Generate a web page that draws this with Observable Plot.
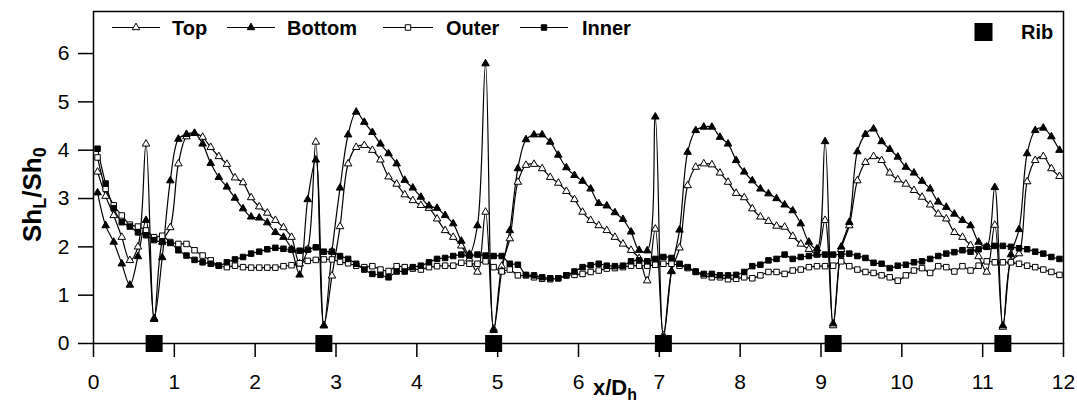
<!DOCTYPE html>
<html><head><meta charset="utf-8">
<script src="https://cdn.jsdelivr.net/npm/d3@7"></script>
<script src="https://cdn.jsdelivr.net/npm/@observablehq/plot@0.6"></script>
<style>
html,body{margin:0;padding:0;background:#fff;}
#chart{width:1077px;height:404px;overflow:hidden;}
svg{font-family:"Liberation Sans",Arial,Helvetica,sans-serif;}
</style></head><body><div id="chart"></div>
<script>
// measurement stations x/Dh
const xPos = [
 0.05,0.15,0.25,0.35,0.45,0.55,0.65,0.75,0.85,0.95,
 1.05,1.15,1.25,1.35,1.45,1.55,1.65,1.75,1.85,1.95,
 2.05,2.15,2.25,2.35,2.45,2.55,2.65,2.75,2.85,2.95,
 3.05,3.15,3.25,3.35,3.45,3.55,3.65,3.75,3.85,3.95,
 4.05,4.15,4.25,4.35,4.45,4.55,4.65,4.75,4.85,4.95,
 5.05,5.15,5.25,5.35,5.45,5.55,5.65,5.75,5.85,5.95,
 6.05,6.15,6.25,6.35,6.45,6.55,6.65,6.75,6.85,6.95,
 7.05,7.15,7.25,7.35,7.45,7.55,7.65,7.75,7.85,7.95,
 8.05,8.15,8.25,8.35,8.45,8.55,8.65,8.75,8.85,8.95,
 9.05,9.15,9.25,9.35,9.45,9.55,9.65,9.75,9.85,9.95,
 10.05,10.15,10.25,10.35,10.45,10.55,10.65,10.75,10.85,10.95,
 11.05,11.15,11.25,11.35,11.45,11.55,11.65,11.75,11.85,11.95];

const topVals = [
 3.55,3.05,2.65,2.2,1.72,2.0,4.13,0.5,2.1,2.4,
 3.72,4.28,4.35,4.27,4.06,3.87,3.71,3.43,3.33,3.02,
 2.83,2.7,2.55,2.4,2.2,1.65,1.95,4.17,0.37,1.4,
 2.42,3.72,4.06,4.1,4.0,3.8,3.45,3.3,3.08,2.96,
 2.86,2.8,2.58,2.34,2.2,2.02,1.75,1.48,2.72,0.3,
 1.6,2.17,3.34,3.69,3.71,3.62,3.44,3.32,3.15,2.98,
 2.72,2.55,2.44,2.34,2.2,2.06,1.93,1.76,1.3,2.37,
 0.17,1.49,1.98,3.27,3.65,3.72,3.7,3.53,3.34,3.11,
 3.02,2.79,2.62,2.53,2.43,2.41,2.22,2.06,1.95,1.85,
 2.55,0.37,1.95,2.44,3.37,3.75,3.87,3.79,3.53,3.39,
 3.3,3.17,3.03,2.87,2.68,2.58,2.3,2.2,2.03,1.8,
 1.48,2.45,0.34,1.7,1.86,3.35,3.79,3.87,3.62,3.46];

const bottomVals = [
 3.12,2.44,2.1,1.65,1.21,1.8,2.55,0.52,1.78,3.37,
 4.23,4.33,4.35,4.13,3.73,3.44,3.24,3.01,2.79,2.62,
 2.6,2.5,2.3,2.2,1.95,1.42,2.98,3.8,0.37,1.9,
 3.22,4.32,4.79,4.58,4.37,4.13,3.93,3.72,3.38,3.22,
 3.03,2.85,2.8,2.65,2.48,2.12,1.85,2.44,5.79,0.27,
 1.5,2.34,3.62,4.22,4.32,4.32,4.17,3.9,3.64,3.48,
 3.36,3.2,2.9,2.85,2.71,2.57,2.31,1.93,1.92,4.69,
 0.13,1.5,2.35,3.96,4.41,4.48,4.48,4.27,4.13,3.79,
 3.55,3.37,3.2,3.1,3.0,2.87,2.75,2.48,2.1,1.96,
 4.18,0.41,2.0,2.51,3.97,4.33,4.44,4.18,4.02,3.86,
 3.65,3.53,3.36,3.2,2.93,2.82,2.68,2.55,2.44,2.1,
 2.0,3.23,0.37,1.84,2.36,3.93,4.41,4.46,4.28,4.0];

const outerVals = [
 3.85,3.2,2.86,2.65,2.46,2.42,2.34,2.2,2.23,2.1,
 2.06,2.06,1.93,1.82,1.72,1.61,1.58,1.61,1.58,1.57,
 1.57,1.57,1.57,1.6,1.62,1.66,1.71,1.73,1.74,1.74,
 1.69,1.66,1.61,1.58,1.6,1.53,1.5,1.6,1.58,1.55,
 1.53,1.58,1.6,1.61,1.61,1.67,1.65,1.65,1.7,1.58,
 1.49,1.53,1.41,1.41,1.37,1.34,1.33,1.35,1.41,1.42,
 1.44,1.48,1.51,1.55,1.56,1.58,1.61,1.61,1.61,1.63,
 1.65,1.65,1.61,1.56,1.48,1.41,1.37,1.37,1.33,1.34,
 1.37,1.35,1.41,1.48,1.48,1.44,1.51,1.53,1.58,1.6,
 1.6,1.61,1.7,1.6,1.53,1.48,1.46,1.41,1.37,1.3,
 1.41,1.51,1.56,1.46,1.6,1.58,1.49,1.6,1.51,1.61,
 1.7,1.68,1.68,1.68,1.65,1.61,1.58,1.53,1.48,1.42];

const innerVals = [
 4.03,3.31,2.8,2.51,2.42,2.3,2.24,2.14,2.1,2.08,
 1.93,1.82,1.73,1.68,1.65,1.61,1.68,1.74,1.79,1.86,
 1.9,1.95,1.98,1.96,1.94,1.92,1.94,1.99,1.9,1.9,
 1.81,1.75,1.65,1.53,1.44,1.42,1.37,1.49,1.49,1.58,
 1.61,1.68,1.75,1.77,1.81,1.84,1.82,1.84,1.82,1.81,
 1.81,1.65,1.63,1.42,1.41,1.37,1.35,1.35,1.41,1.49,
 1.58,1.62,1.65,1.61,1.6,1.61,1.7,1.72,1.7,1.75,
 1.79,1.77,1.65,1.58,1.49,1.44,1.44,1.41,1.41,1.42,
 1.48,1.6,1.63,1.72,1.75,1.84,1.75,1.79,1.81,1.84,
 1.84,1.84,1.84,1.86,1.81,1.77,1.67,1.65,1.56,1.61,
 1.63,1.68,1.7,1.75,1.81,1.86,1.89,1.93,1.9,1.95,
 2.0,2.02,2.02,2.0,1.97,1.95,1.9,1.86,1.79,1.75];

const ribX = [0.75, 2.85, 4.95, 7.05, 9.15, 11.25];
const seriesNames = ["Top", "Bottom", "Outer", "Inner"];
const xTicks = [0,1,2,3,4,5,6,7,8,9,10,11,12];
const yTicks = [0,1,2,3,4,5,6];

const seriesStyle = {
  Top:    {symbol: "triangle", fill: "white", r: 2.8},
  Bottom: {symbol: "triangle", fill: "black", r: 2.8},
  Outer:  {symbol: "square",   fill: "white", r: 3.1},
  Inner:  {symbol: "square",   fill: "black", r: 3.1}
};
const valueSets = {Top: topVals, Bottom: bottomVals, Outer: outerVals, Inner: innerVals};
const rows = seriesNames.map(name => xPos.map((x, i) => ({series: name, x, y: valueSets[name][i]})));
const ribs = ribX.map(x => ({x, y: 0}));

const marks = [Plot.frame({stroke: "black", strokeWidth: 1.5})];
for (const [j, name] of seriesNames.entries()) {
  marks.push(Plot.line(rows[j], {x: "x", y: "y", stroke: "black", strokeWidth: 1.2, curve: "catmull-rom"}));
}
for (const [j, name] of seriesNames.entries()) {
  const s = seriesStyle[name];
  marks.push(Plot.dot(rows[j], {x: "x", y: "y", symbol: s.symbol, r: s.r, fill: s.fill, stroke: "black", strokeWidth: 1}));
}
marks.push(Plot.dot(ribs, {x: "x", y: "y", symbol: "square", r: 9.6, fill: "black", stroke: "none"}));
marks.push(Plot.axisX({ticks: xTicks, tickSize: 14, tickPadding: 17, fontSize: 21, strokeWidth: 1.5, label: null, tickFormat: d => String(d)}));
marks.push(Plot.axisY({ticks: yTicks, tickSize: 15, tickPadding: 9, fontSize: 21, strokeWidth: 1.5, label: null, tickFormat: d => String(d)}));

const chart = Plot.plot({
  width: 1077, height: 404,
  marginLeft: 93, marginRight: 14, marginTop: 11, marginBottom: 61,
  x: {domain: [0, 12]},
  y: {domain: [0, 6.87]},
  style: {fontFamily: '"Liberation Sans", Arial, Helvetica, sans-serif', color: "black", background: "white", overflow: "visible"},
  marks
});
document.getElementById("chart").appendChild(chart);

// legend and axis titles
const svg = d3.select(chart);
const g = svg.append("g").attr("font-family", '"Liberation Sans", Arial, sans-serif').attr("text-anchor", "start");
const legendItems = [
  {name: "Top", x1: 112, x2: 160, tx: 172},
  {name: "Bottom", x1: 227, x2: 275, tx: 287},
  {name: "Outer", x1: 383, x2: 433, tx: 446},
  {name: "Inner", x1: 520, x2: 568, tx: 582}
];
const ly = 27.5;
for (const it of legendItems) {
  const s = seriesStyle[it.name];
  g.append("line").attr("x1", it.x1).attr("x2", it.x2).attr("y1", ly).attr("y2", ly).attr("stroke", "black").attr("stroke-width", 1.2);
  const sym = s.symbol === "triangle" ? d3.symbolTriangle : d3.symbolSquare;
  g.append("path").attr("d", d3.symbol(sym, s.r * s.r * Math.PI)())
    .attr("transform", `translate(${(it.x1 + it.x2) / 2},${ly})`)
    .attr("fill", s.fill).attr("stroke", "black").attr("stroke-width", 1);
  g.append("text").attr("x", it.tx).attr("y", 34.5).attr("font-size", 20).attr("font-weight", "bold").attr("text-anchor", "start").text(it.name);
}
g.append("rect").attr("x", 974.5).attr("y", 23).attr("width", 18).attr("height", 18).attr("fill", "black");
g.append("text").attr("x", 1021).attr("y", 39).attr("font-size", 20).attr("font-weight", "bold").attr("text-anchor", "start").text("Rib");

const xl = g.append("text").attr("x", 593).attr("y", 395).attr("font-size", 22).attr("font-weight", "bold").attr("text-anchor", "start");
xl.append("tspan").text("x/D");
xl.append("tspan").attr("font-size", 16).attr("dy", 5).text("h");

const yl = g.append("text").attr("transform", "translate(41,242) rotate(-90)").attr("font-size", 26).attr("font-weight", "bold").attr("text-anchor", "start");
yl.append("tspan").text("Sh");
yl.append("tspan").attr("font-size", 18).attr("dy", 5).text("L");
yl.append("tspan").attr("dy", -5).text("/Sh");
yl.append("tspan").attr("font-size", 18).attr("dy", 5).text("0");
</script>
</body></html>
